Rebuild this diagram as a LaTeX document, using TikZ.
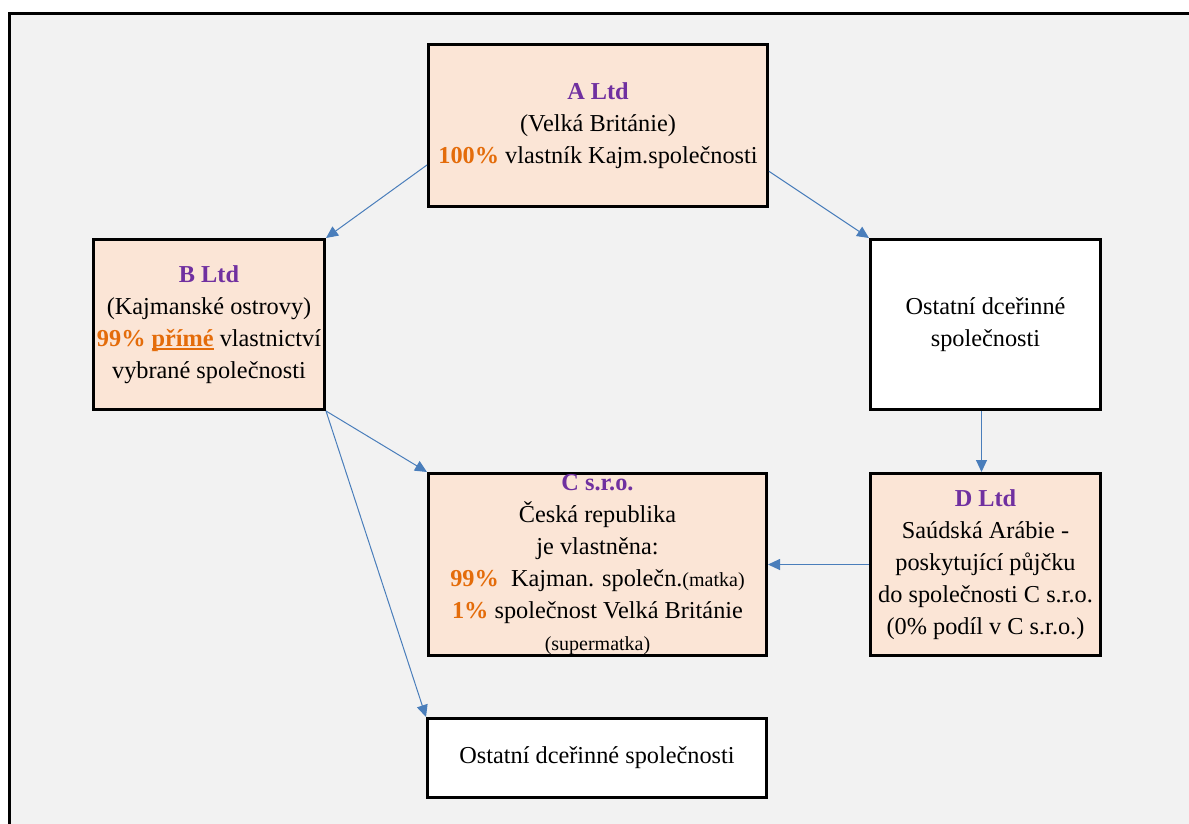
\documentclass[tikz,border=0pt]{standalone}
\usepackage{fontspec}
\setmainfont{Liberation Serif}
\usetikzlibrary{arrows.meta}

\definecolor{peach}{HTML}{FBE5D6}
\definecolor{firmviolet}{HTML}{7030A0}
\definecolor{pctorange}{HTML}{E46C0A}
\definecolor{arrowblue}{HTML}{4A7EBB}
\definecolor{backgray}{HTML}{F2F2F2}

\newcommand{\firm}[1]{\textcolor{firmviolet}{\textbf{#1}}}
\newcommand{\pct}[1]{\textcolor{pctorange}{\textbf{#1}}}
\newcommand{\smalltxt}[1]{{\fontsize{20}{32}\selectfont #1}}
\newcommand{\thickuline}[1]{\setbox0\hbox{#1}\rlap{\rule[-3.5pt]{\wd0}{1.6pt}}\box0}

\begin{document}
\begin{tikzpicture}
		[x=1pt,y=-1pt,
		box/.style={draw=black,line width=3pt,fill=peach,align=center,inner sep=0pt,font=\fontsize{24.3}{32}\selectfont},
		other/.style={box,fill=white},
		arr/.style={-{Triangle[length=12pt,width=11pt]},draw=arrowblue,line width=1pt}]

		\useasboundingbox (0,0) rectangle (1189,823);
		\fill[backgray] (9.5,13.5) rectangle (1200,830);
		\draw[line width=3pt] (9.5,830) -- (9.5,13.5) -- (1200,13.5);

		\node[box,minimum width=339pt,minimum height=162pt] (a) at (598,125.5)
			{\firm{A Ltd}\\(Velká Británie)\\\pct{100\%} vlastník Kajm.společnosti};

		\node[box,minimum width=231pt,minimum height=170pt] (b) at (209,324.5)
			{\firm{B Ltd}\\(Kajmanské ostrovy)\\\pct{99\% \thickuline{přímé}} vlastnictví\\vybrané společnosti};

		\node[other,minimum width=230pt,minimum height=170pt] (r) at (985.5,324.5)
			{Ostatní dceřinné\\společnosti};

		\node[box,minimum width=338pt,minimum height=182pt] (c) at (597.5,564.5)
			{\firm{C s.r.o.}\\Česká republika\\je vlastněna:\\\pct{99\%}\ \ Kajman. společn.\smalltxt{(matka)}\\\pct{1\%} společnost Velká Británie\\\smalltxt{(supermatka)}};

		\node[box,minimum width=230pt,minimum height=182pt] (d) at (985.5,564.5)
			{\firm{D Ltd}\\Saúdská Arábie -\\poskytující půjčku\\do společnosti C s.r.o.\\(0\% podíl v C s.r.o.)};

		\node[other,minimum width=339pt,minimum height=79pt] (e) at (597,758)
			{Ostatní dceřinné společnosti};

		\draw[arr] (a.193) -- (b.north east);
		\draw[arr] (a.345) -- (r.north west);
		\draw[arr] ([xshift=-4pt]r.south) -- ([xshift=-4pt]d.north);
		\draw[arr] (d.west) -- (c.east);
		\draw[arr] (b.south east) -- (c.north west);
		\draw[arr] (b.south east) -- (e.north west);

	\end{tikzpicture}
\end{document}
